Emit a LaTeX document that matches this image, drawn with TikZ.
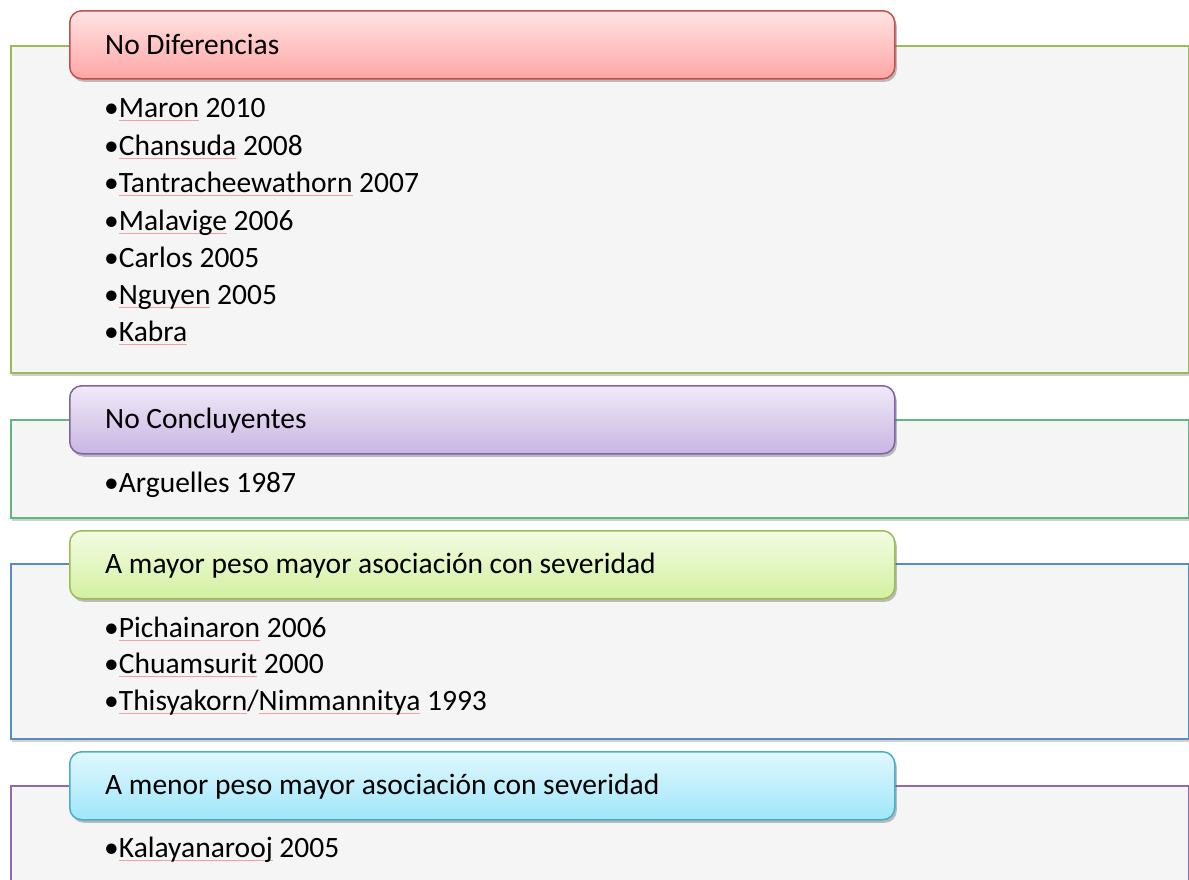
\documentclass[tikz,border=0pt]{standalone}
\usepackage{fontspec}
\setmainfont{Carlito}
\usetikzlibrary{shadows}
\definecolor{panelfill}{HTML}{F5F5F5}
\definecolor{pborderA}{HTML}{9BBB59}
\definecolor{pborderB}{HTML}{62B57F}
\definecolor{pborderC}{HTML}{5B8CBF}
\definecolor{pborderD}{HTML}{8C6BAE}
\definecolor{hborderA}{HTML}{C0504D}
\definecolor{htopA}{HTML}{FFE3E3}
\definecolor{hbotA}{HTML}{FFA6A6}
\definecolor{hborderB}{HTML}{8064A2}
\definecolor{htopB}{HTML}{F0EAF8}
\definecolor{hbotB}{HTML}{C9B5E3}
\definecolor{hborderC}{HTML}{9BBB59}
\definecolor{htopC}{HTML}{F3FCE3}
\definecolor{hbotC}{HTML}{D2F0A0}
\definecolor{hborderD}{HTML}{4BACC6}
\definecolor{htopD}{HTML}{E1F8FE}
\definecolor{hbotD}{HTML}{9FE6FA}
\definecolor{sqred}{HTML}{F2A0A0}
\newcommand\sqw[1]{\setbox0\hbox{#1}\rlap{\textcolor{sqred}{\rule[-3.5pt]{\wd0}{0.9pt}}}\box0\relax}
\begin{document}
\begin{tikzpicture}[x=1pt,y=-1pt,
  panel/.style={draw=#1, fill=panelfill, line width=1.5pt, rectangle, inner sep=0pt,
    anchor=north west, minimum width=1178pt,
    drop shadow={shadow xshift=1pt, shadow yshift=-3pt, opacity=0.3, fill=black!60}},
  header/.style={draw=hborder#1, line width=1.5pt, rectangle, rounded corners=12pt, inner sep=0pt,
    anchor=north west, minimum width=825pt, minimum height=68pt,
    top color=htop#1, bottom color=hbot#1,
    drop shadow={shadow xshift=2pt, shadow yshift=-3pt, opacity=0.35, fill=black!70}},
  htxt/.style={anchor=base west, inner sep=0pt, font=\fontsize{29.5}{34}\selectfont},
  item/.style={anchor=base west, inner sep=0pt, font=\fontsize{29.5}{34}\selectfont}
]
\clip (0,0) rectangle (1189,879);
\fill[white] (0,0) rectangle (1189,879);

% Panel 1
\node[panel=pborderA, minimum height=327pt] (p1) at (10,45) {};
\node[header=A] (h1) at (69,10) {};
\node[htxt] (t1) at (105,54) {No Diferencias};
\node[item] (a1) at (104,117) {•\sqw{Maron} 2010};
\node[item] (a2) at (104,155) {•\sqw{Chansuda} 2008};
\node[item] (a3) at (104,192) {•\sqw{Tantracheewathorn} 2007};
\node[item] (a4) at (104,230) {•\sqw{Malavige} 2006};
\node[item] (a5) at (104,267) {•Carlos 2005};
\node[item] (a6) at (104,304) {•\sqw{Nguyen} 2005};
\node[item] (a7) at (104,341) {•\sqw{Kabra}};

% Panel 2
\node[panel=pborderB, minimum height=98pt] (p2) at (10,419) {};
\node[header=B] (h2) at (69,385) {};
\node[htxt] (t2) at (105,428) {No Concluyentes};
\node[item] (b1) at (104,492) {•Arguelles 1987};

% Panel 3
\node[panel=pborderC, minimum height=175pt] (p3) at (10,563) {};
\node[header=C] (h3) at (69,530) {};
\node[htxt] (t3) at (105,573) {A mayor peso mayor asociación con severidad};
\node[item] (c1) at (104,637) {•\sqw{Pichainaron} 2006};
\node[item] (c2) at (104,673) {•\sqw{Chuamsurit} 2000};
\node[item] (c3) at (104,710) {•\sqw{Thisyakorn}/\sqw{Nimmannitya} 1993};

% Panel 4
\node[panel=pborderD, minimum height=140pt] (p4) at (10,785) {};
\node[header=D] (h4) at (69,751) {};
\node[htxt] (t4) at (105,794) {A menor peso mayor asociación con severidad};
\node[item] (d1) at (104,857) {•\sqw{Kalayanarooj} 2005};
\end{tikzpicture}
\end{document}
